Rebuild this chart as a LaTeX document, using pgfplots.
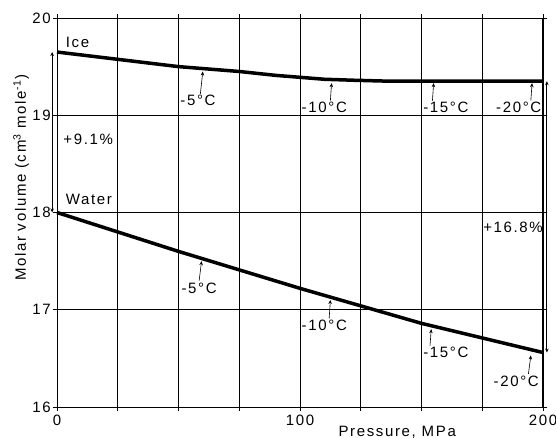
\documentclass[border=0pt]{standalone}
\usepackage{pgfplots}
\pgfplotsset{compat=1.18}
\usepackage{fontspec}
\setmainfont{Liberation Sans}[LetterSpace=11]
\usetikzlibrary{arrows.meta}
\begin{document}
\fontsize{15}{17}\selectfont
\begin{tikzpicture}[x=1pt,y=1pt]
\useasboundingbox (0,0) rectangle (556,438);
\begin{axis}[at={(57pt,31pt)}, anchor=south west, scale only axis, width=486pt, height=389pt,
 xmin=0,xmax=200,ymin=16,ymax=20,
 xtick={0,25,...,200}, xticklabels={0,,,,100,,,,200}, ytick={16,17,18,19,20},
 grid=major, grid style={black, line width=0.8pt}, axis line style={black,line width=0.8pt},
 tick align=outside, major tick length=4pt, tick style={black,line width=0.8pt},
 /pgf/number format/assume math mode=true,
 ticklabel style={font=\fontsize{15}{17}\selectfont},
 xticklabel style={inner sep=1pt, yshift=-3pt},
 yticklabel style={inner sep=2pt},
 xlabel={Pressure, MPa}, xlabel style={at={(rel axis cs:0.70,0)}, anchor=center, yshift=-25pt},
 ylabel={Molar volume (cm\textsuperscript{3} mole\textsuperscript{-1})},
 ylabel style={at={(rel axis cs:-0.074,0.589)}, anchor=center},
 clip=false]
\addplot[black, line width=3.5pt] coordinates {(0,19.65) (25,19.575) (50,19.50) (75,19.45) (90,19.41) (100,19.39) (110,19.37) (122,19.36) (137,19.35) (200,19.35)};
\addplot[black, line width=3.5pt] coordinates {(0,18.0) (25,17.80) (50,17.60) (75,17.41) (100,17.22) (125,17.04) (150,16.86) (175,16.71) (200,16.56)};
% labels
\node[anchor=west] at (axis cs:1.5,19.75) {Ice};
\node[anchor=west] at (axis cs:1.5,18.13) {Water};
\node[anchor=west] at (axis cs:0.5,18.75) {+9.1\%};
\node[anchor=east,inner sep=0pt] at (axis cs:200,17.85) {+16.8\%};
% ice temps
\node at (axis cs:58,19.157) {-5°C};
\node at (axis cs:110,19.08) {-10°C};
\node at (axis cs:160,19.08) {-15°C};
\node at (axis cs:190,19.08) {-20°C};
\draw[-{Stealth[length=4pt,width=3.5pt]}, line width=0.6pt] (axis cs:59,19.22) -- (axis cs:60,19.45);
\draw[-{Stealth[length=4pt,width=3.5pt]}, line width=0.6pt] (axis cs:112.5,19.15) -- (axis cs:113,19.33);
\draw[-{Stealth[length=4pt,width=3.5pt]}, line width=0.6pt] (axis cs:154.5,19.15) -- (axis cs:155,19.33);
\draw[-{Stealth[length=4pt,width=3.5pt]}, line width=0.6pt] (axis cs:195,19.15) -- (axis cs:195.5,19.33);
% water temps
\node at (axis cs:58.5,17.22) {-5°C};
\node at (axis cs:110,16.84) {-10°C};
\node at (axis cs:160,16.56) {-15°C};
\node at (axis cs:189,16.26) {-20°C};
\draw[-{Stealth[length=4pt,width=3.5pt]}, line width=0.6pt] (axis cs:58.5,17.30) -- (axis cs:59.5,17.50);
\draw[-{Stealth[length=4pt,width=3.5pt]}, line width=0.6pt] (axis cs:112,16.91) -- (axis cs:112.5,17.10);
\draw[-{Stealth[length=4pt,width=3.5pt]}, line width=0.6pt] (axis cs:153.5,16.63) -- (axis cs:154,16.80);
\draw[-{Stealth[length=4pt,width=3.5pt]}, line width=0.6pt] (axis cs:194,16.34) -- (axis cs:195,16.53);
% percentage arrows
\draw[{Stealth[length=4pt,width=3.5pt]}-{Stealth[length=4pt,width=3.5pt]}, line width=0.8pt] (axis cs:-2,18.0) -- (axis cs:-2,19.65);
\draw[line width=2pt] (axis cs:200,20) -- (axis cs:200,16);
\draw[{Stealth[length=4pt,width=3.5pt]}-{Stealth[length=4pt,width=3.5pt]}, line width=0.8pt] (axis cs:201.6,19.35) -- (axis cs:201.6,16.56);
\end{axis}
\end{tikzpicture}
\end{document}
